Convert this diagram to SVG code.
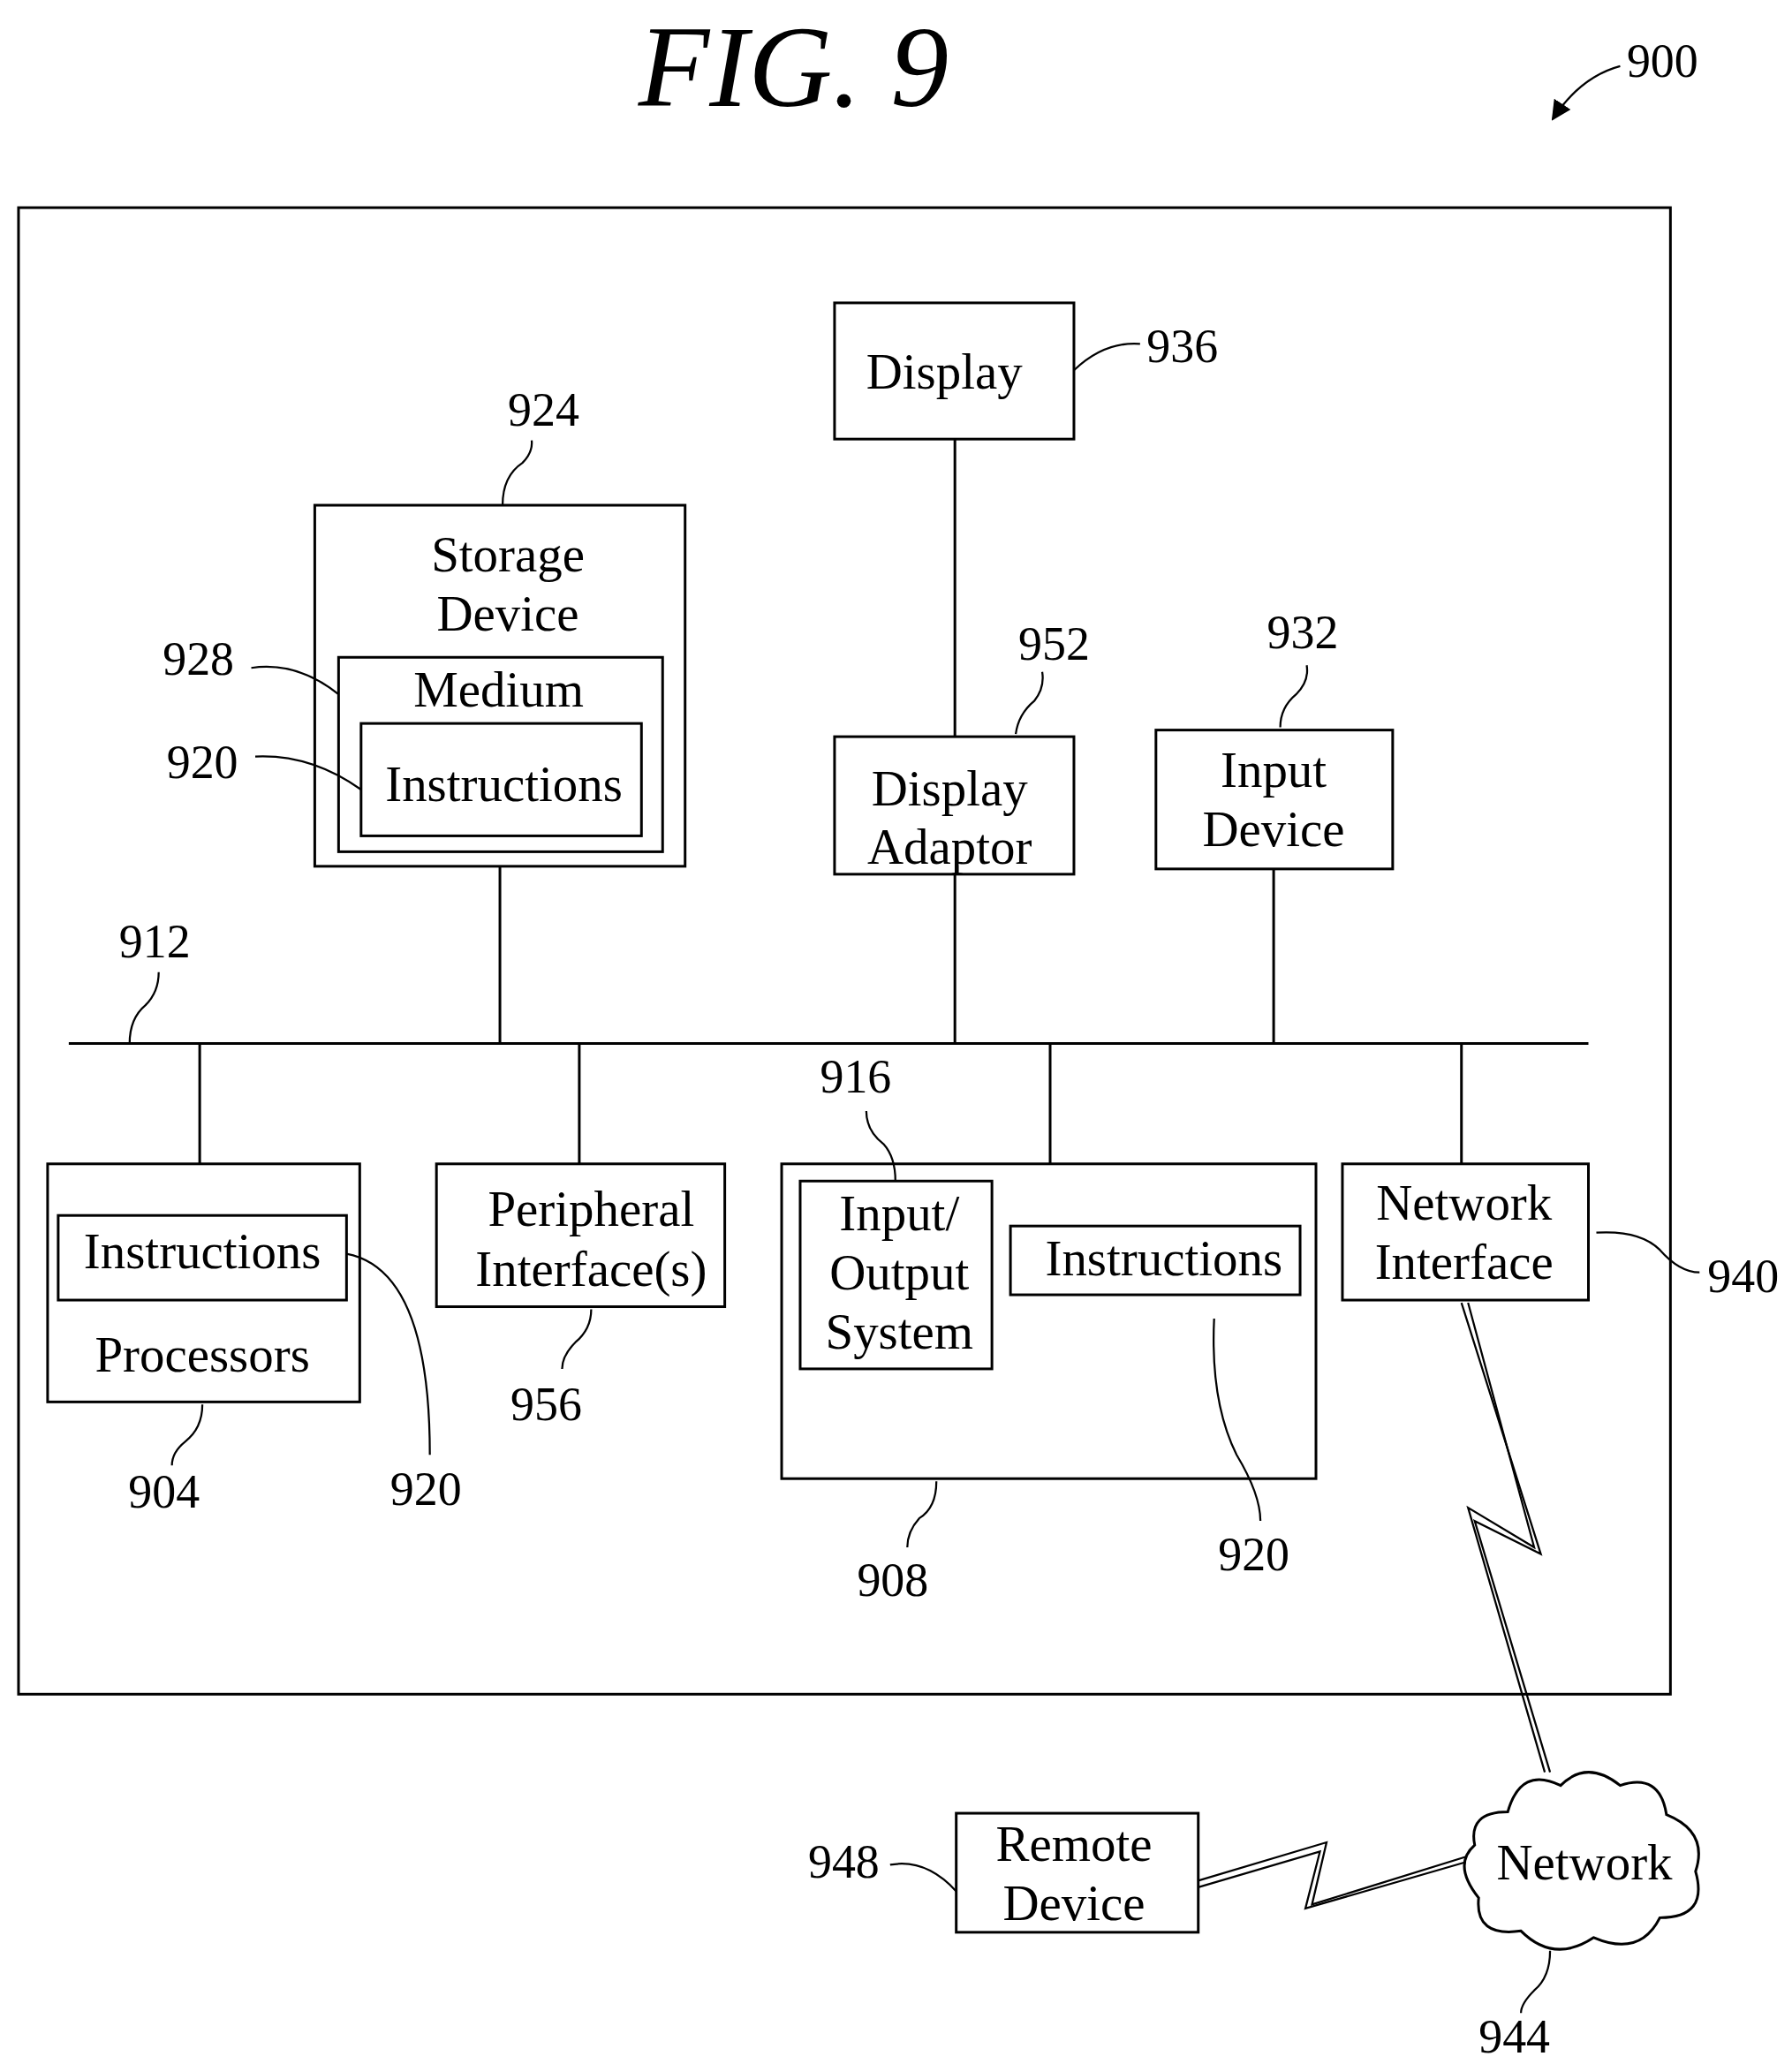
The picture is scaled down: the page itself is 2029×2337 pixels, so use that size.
<svg xmlns="http://www.w3.org/2000/svg" width="2029" height="2337" viewBox="0 0 2029 2337">
<style>
.b{fill:none;stroke:#000;stroke-width:2}
.l{fill:none;stroke:#000;stroke-width:1.5}
text{font-family:"Liberation Serif",serif;font-size:38px;text-anchor:middle;fill:#000}
.n{font-size:36px}
</style>
<defs><marker id="ah" markerWidth="10" markerHeight="10" refX="9" refY="5" orient="auto"><path d="M0,0 L10,5 L0,10 Z"/></marker></defs>
<rect width="2029" height="2337" fill="#fff"/>
<g transform="scale(1.4975)">
<text x="600" y="80" style="font-size:88px;font-style:italic">FIG. 9</text>
<g id="ref900"><text class="n" x="1257" y="58">900</text><path class="l" d="M1225,50 Q1195,58 1174,90" marker-end="url(#ah)"/></g>
<rect id="system" class="b" x="14" y="157" width="1249" height="1124"/>
<g id="connectors" class="b">
<path d="M722,332V557M722,661V789M52,789H1201M378,655V789M963,657V789M151,789V880M438,789V880M794,789V880M1105,789V880"/>
<polyline class="l" points="1105,985 1165,1175 1115,1150 1172,1340"/>
<polyline class="l" points="1110,985 1160,1170 1110,1140 1168,1340"/>
<polyline class="l" points="906,1422 1003,1393 992,1440 1108,1404"/>
<polyline class="l" points="906,1427 998,1400 987,1443 1108,1408"/>
</g>
<g id="leaders" class="l">
<path d="M812,280 Q835,258 862,260"/>
<path d="M380,382 Q380,360 395,350 Q403,342 402,333"/>
<path d="M190,505 Q225,500 256,525"/>
<path d="M193,572 Q235,570 273,597"/>
<path d="M768,555 Q770,540 782,530 Q790,520 788,508"/>
<path d="M968,550 Q968,535 980,525 Q990,515 988,503"/>
<path d="M98,789 Q98,770 110,760 Q120,750 120,735"/>
<path d="M153,1062 Q153,1080 140,1090 Q130,1098 130,1108"/>
<path d="M262,948 Q325,960 325,1100"/>
<path d="M447,990 Q447,1005 435,1015 Q425,1025 425,1035"/>
<path d="M655,840 Q655,855 668,865 Q677,875 677,893"/>
<path d="M918,997 Q915,1060 935,1100 Q953,1130 953,1150"/>
<path d="M708,1120 Q708,1140 695,1148 Q686,1158 686,1170"/>
<path d="M1207,932 Q1240,930 1255,945 Q1270,962 1285,962"/>
<path d="M673,1410 Q700,1405 723,1430"/>
<path d="M1172,1475 Q1172,1495 1160,1505 Q1150,1515 1150,1522"/>
</g>
<g id="display"><rect class="b" x="631" y="229" width="181" height="103"/><text x="714" y="294">Display</text><text class="n" x="894" y="274">936</text></g>
<g id="storage"><rect class="b" x="238" y="382" width="280" height="273"/><text x="384" y="432">Storage</text><text x="384" y="477">Device</text><text class="n" x="411" y="322">924</text></g>
<g id="medium"><rect class="b" x="256" y="497" width="245" height="147"/><text x="377" y="534">Medium</text><text class="n" x="150" y="510">928</text></g>
<g id="instr1"><rect class="b" x="273" y="547" width="212" height="85"/><text x="381" y="606">Instructions</text><text class="n" x="153" y="588">920</text></g>
<g id="adaptor"><rect class="b" x="631" y="557" width="181" height="104"/><text x="718" y="609">Display</text><text x="718" y="653">Adaptor</text><text class="n" x="797" y="499">952</text></g>
<g id="input"><rect class="b" x="874" y="552" width="179" height="105"/><text x="963" y="595">Input</text><text x="963" y="640">Device</text><text class="n" x="985" y="490">932</text></g>
<text class="n" x="117" y="724">912</text>
<g id="processors"><rect class="b" x="36" y="880" width="236" height="180"/><rect class="b" x="44" y="919" width="218" height="64"/><text x="153" y="959">Instructions</text><text x="153" y="1037">Processors</text><text class="n" x="124" y="1140">904</text><text class="n" x="322" y="1138">920</text></g>
<g id="peripheral"><rect class="b" x="330" y="880" width="218" height="108"/><text x="447" y="927">Peripheral</text><text x="447" y="972">Interface(s)</text><text class="n" x="413" y="1074">956</text></g>
<g id="memory"><rect class="b" x="591" y="880" width="404" height="238"/><text class="n" x="675" y="1207">908</text>
<rect class="b" x="605" y="893" width="145" height="142"/><text x="680" y="930">Input/</text><text x="680" y="975">Output</text><text x="680" y="1020">System</text><text class="n" x="647" y="826">916</text>
<rect class="b" x="764" y="927" width="219" height="52"/><text x="880" y="964">Instructions</text><text class="n" x="948" y="1187">920</text></g>
<g id="netif"><rect class="b" x="1015" y="880" width="186" height="103"/><text x="1107" y="922">Network</text><text x="1107" y="967">Interface</text><text class="n" x="1318" y="977">940</text></g>
<g id="network"><path class="b" fill="#fff" d="M1140,1370 Q1150,1335 1180,1350 Q1200,1330 1225,1350 Q1255,1340 1260,1372 Q1292,1385 1282,1415 Q1292,1450 1255,1450 Q1240,1480 1205,1465 Q1175,1485 1150,1460 Q1115,1465 1118,1435 Q1098,1410 1115,1395 Q1110,1370 1140,1370 Z"/><text x="1198" y="1421">Network</text><text class="n" x="1145" y="1552">944</text></g>
<g id="remote"><rect class="b" x="723" y="1371" width="183" height="90"/><text x="812" y="1407">Remote</text><text x="812" y="1452">Device</text><text class="n" x="638" y="1420">948</text></g>
</g>
</svg>
